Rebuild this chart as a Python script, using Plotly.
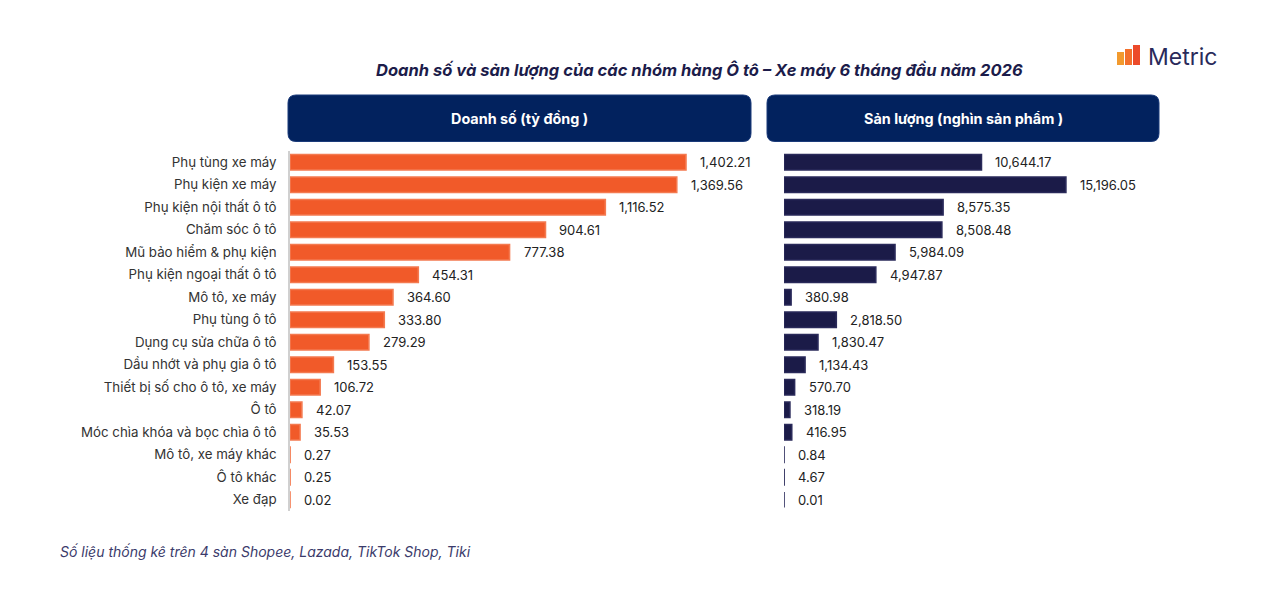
import plotly.graph_objects as go

categories = ["Phụ tùng xe máy", "Phụ kiện xe máy", "Phụ kiện nội thất ô tô", "Chăm sóc ô tô",
              "Mũ bảo hiểm & phụ kiện", "Phụ kiện ngoại thất ô tô", "Mô tô, xe máy", "Phụ tùng ô tô",
              "Dụng cụ sửa chữa ô tô", "Dầu nhớt và phụ gia ô tô", "Thiết bị số cho ô tô, xe máy",
              "Ô tô", "Móc chìa khóa và bọc chìa ô tô", "Mô tô, xe máy khác", "Ô tô khác", "Xe đạp"]
doanh_so = [1402.21, 1369.56, 1116.52, 904.61, 777.38, 454.31, 364.60, 333.80,
            279.29, 153.55, 106.72, 42.07, 35.53, 0.27, 0.25, 0.02]
san_luong = [10644.17, 15196.05, 8575.35, 8508.48, 5984.09, 4947.87, 380.98, 2818.50,
             1830.47, 1134.43, 570.70, 318.19, 416.95, 0.84, 4.67, 0.01]

title_text = "Doanh số và sản lượng của các nhóm hàng Ô tô – Xe máy 6 tháng đầu năm 2026"
header_left = "Doanh số (tỷ đồng )"
header_right = "Sản lượng (nghìn sản phẩm )"
footnote = "Số liệu thống kê trên 4 sàn Shopee, Lazada, TikTok Shop, Tiki"

W, H = 1280, 603
FONT = "Inter"
ORANGE = "#F15A29"
NAVY = "#1B1B48"
HEADER = "#02225E"

def px(x):
    return x / W

def py(y):
    return 1 - y / H

fig = go.Figure()
fig.add_trace(go.Bar(y=categories, x=doanh_so, orientation="h", xaxis="x", yaxis="y",
                     marker=dict(color=ORANGE, line=dict(color="#F47A50", width=1.6)),
                     width=0.69, showlegend=False, hoverinfo="x+y"))
fig.add_trace(go.Bar(y=categories, x=san_luong, orientation="h", xaxis="x2", yaxis="y2",
                     marker=dict(color=NAVY, line=dict(color="#2A2A5A", width=1.6)),
                     width=0.69, showlegend=False, hoverinfo="x+y"))

y_dom = [py(511), py(151)]
left_x0, left_x1 = 290, 750
right_x0, right_x1 = 784, 1158
left_scale = 0.2824   # px per unit
right_scale = 0.01855

fig.update_layout(
    width=W, height=H, margin=dict(l=0, r=0, t=0, b=0),
    paper_bgcolor="white", plot_bgcolor="white",
    font=dict(family=FONT, color="#333333", size=13),
    xaxis=dict(domain=[px(left_x0), px(left_x1)], range=[0, (left_x1 - left_x0) / left_scale],
               visible=False, fixedrange=True),
    yaxis=dict(domain=y_dom, autorange="reversed", anchor="x", showline=True, linecolor="#D0D0D0",
               linewidth=1.5, ticks="", ticklabelstandoff=9, showgrid=False,
               tickfont=dict(family=FONT, size=13.3, color="#333333")),
    xaxis2=dict(domain=[px(right_x0), px(right_x1)], range=[0, (right_x1 - right_x0) / right_scale],
                visible=False, fixedrange=True),
    yaxis2=dict(domain=y_dom, autorange="reversed", anchor="x2", showticklabels=False,
                showline=False, showgrid=False, ticks=""),
)

annotations = []
for c, v in zip(categories, doanh_so):
    annotations.append(dict(x=v, y=c, xref="x", yref="y", text=f"{v:,.2f}", showarrow=False,
                            xanchor="left", xshift=12, font=dict(family=FONT, size=13, color="#222222")))
for c, v in zip(categories, san_luong):
    annotations.append(dict(x=v, y=c, xref="x2", yref="y2", text=f"{v:,.2f}", showarrow=False,
                            xanchor="left", xshift=12, font=dict(family=FONT, size=13, color="#222222")))

annotations.append(dict(x=px(699), y=py(70), xref="paper", yref="paper", text=f"<b><i>{title_text}</i></b>",
                        showarrow=False, xanchor="center", yanchor="middle",
                        font=dict(family=FONT, size=16.5, color="#1C1C4A")))
annotations.append(dict(x=px(519.5), y=py(118), xref="paper", yref="paper", text=f"<b>{header_left}</b>",
                        showarrow=False, xanchor="center", yanchor="middle",
                        font=dict(family=FONT, size=14.4, color="white")))
annotations.append(dict(x=px(963), y=py(118), xref="paper", yref="paper", text=f"<b>{header_right}</b>",
                        showarrow=False, xanchor="center", yanchor="middle",
                        font=dict(family=FONT, size=14.4, color="white")))
annotations.append(dict(x=px(58), y=py(551), xref="paper", yref="paper", text=f"<i>{footnote}</i>",
                        showarrow=False, xanchor="left", yanchor="middle",
                        font=dict(family=FONT, size=14, color="#3B3B6B")))
annotations.append(dict(x=px(1146), y=py(57), xref="paper", yref="paper", text="Metric",
                        showarrow=False, xanchor="left", yanchor="middle",
                        font=dict(family=FONT, size=23, color="#2A2A5A")))

def rounded_rect(x0, y0, x1, y1, r):
    X = lambda v: f"{px(v):.6f}"
    Y = lambda v: f"{py(v):.6f}"
    return (f"M {X(x0 + r)},{Y(y0)} L {X(x1 - r)},{Y(y0)} Q {X(x1)},{Y(y0)} {X(x1)},{Y(y0 + r)} "
            f"L {X(x1)},{Y(y1 - r)} Q {X(x1)},{Y(y1)} {X(x1 - r)},{Y(y1)} "
            f"L {X(x0 + r)},{Y(y1)} Q {X(x0)},{Y(y1)} {X(x0)},{Y(y1 - r)} "
            f"L {X(x0)},{Y(y0 + r)} Q {X(x0)},{Y(y0)} {X(x0 + r)},{Y(y0)} Z")

shapes = [
    dict(type="path", xref="paper", yref="paper", path=rounded_rect(288, 95, 751, 141.5, 8),
         fillcolor=HEADER, line=dict(color="#1A3A7A", width=1), layer="below"),
    dict(type="path", xref="paper", yref="paper", path=rounded_rect(767, 95, 1159, 141.5, 8),
         fillcolor=HEADER, line=dict(color="#1A3A7A", width=1), layer="below"),
]
# logo icon bars
for (x0, x1, top, col) in [(1117, 1124, 52, "#F29A2E"), (1125, 1132, 49, "#F3702C"), (1133, 1140, 45, "#EC4A2A")]:
    shapes.append(dict(type="rect", xref="paper", yref="paper", x0=px(x0), x1=px(x1), y0=py(65), y1=py(top),
                       fillcolor=col, line=dict(width=0)))

fig.update_layout(annotations=annotations, shapes=shapes)
fig.write_html("out.html")
